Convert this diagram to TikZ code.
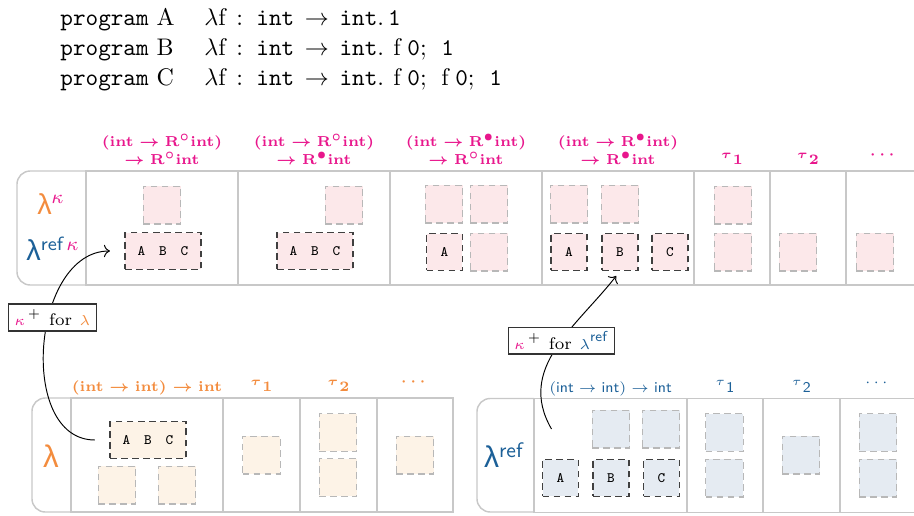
\documentclass[tikz,border=0pt]{standalone}
\usepackage{amsmath,amssymb}
\usepackage{fontspec}
\newfontfamily\lamfont{Liberation Sans}
\usetikzlibrary{arrows.meta,positioning,calc}
\definecolor{kpink}{RGB}{232,22,140}
\definecolor{lorange}{RGB}{243,140,62}
\definecolor{rblue}{RGB}{28,96,152}
\definecolor{kfill}{RGB}{252,232,234}
\definecolor{lfill}{RGB}{253,243,231}
\definecolor{rfill}{RGB}{229,235,242}
\definecolor{framegray}{RGB}{200,200,200}
\newcommand*{\pxu}{0.41667pt}
\newcommand*{\smallkappa}{\mbox{\fontsize{6}{6}\selectfont$\kappa$}}
\newcommand*{\smalllambda}{\mbox{\fontsize{6}{6}\selectfont$\lambda$}}
\newcommand*{\Rw}{\mathbf{R}^{\circ}}
\newcommand*{\Rb}{\mathbf{R}^{\bullet}}
\newcommand*{\bint}{\mathbf{int}}
\newcommand*{\sfint}{\textsf{int}}
\newcommand*{\ttint}{\mathtt{int}}
\newcommand*{\ABC}{A\hspace{5.8pt}B\hspace{5.8pt}C}
\newcommand*{\lamtype}{\lambda\mathrm{f}\mskip8mu{:}\mskip10mu\ttint\mskip8mu{\to}\mskip8mu\ttint.}
\newcommand*{\fzero}{\mathrm{f}\mskip5mu\mathtt{0};\mskip8mu}

\begin{document}
\begin{tikzpicture}[
    x=\pxu, y=-\pxu, >={To},
    cell/.style={draw=framegray, line width=0.6pt, minimum height=47.5pt,
      inner sep=0pt, outer sep=0pt, anchor=north west},
    frameline/.style={draw=framegray, line width=0.6pt, rounded corners=5.5pt},
    sqbox/.style={draw=black!28, line width=0.45pt, dash pattern=on 2.8pt off 1.8pt,
      minimum size=15.8pt, inner sep=0pt},
    tok/.style={draw=black!75, line width=0.55pt, dash pattern=on 2.8pt off 1.8pt,
      minimum width=15pt, minimum height=15.4pt, inner sep=0pt,
      font=\fontsize{6}{7}\selectfont\ttfamily},
    abc/.style={tok, minimum width=31.7pt},
    hdr/.style={inner sep=0pt, text depth=0pt, align=center},
    hk/.style={hdr, text=kpink, font=\fontsize{6.4}{7.6}\selectfont\boldmath},
    hl/.style={hdr, text=lorange, font=\fontsize{6.4}{7.6}\selectfont\boldmath},
    hr/.style={hdr, text=rblue, font=\fontsize{6.2}{7.4}\selectfont},
    lbl/.style={draw=black!80, fill=white, line width=0.5pt, font=\scriptsize,
      inner xsep=2.6pt, inner ysep=1.5pt, minimum height=11.2pt},
    prog/.style={inner sep=0pt, anchor=base west},
  ]
  \useasboundingbox (0,0) rectangle (914,516);
  \clip (0,0) rectangle (914,516);

  % programs
  \node[prog] (pA) at (60,25) {\texttt{program}\ A};
  \node[prog] (pB) at (60,55) {\texttt{program}\ B};
  \node[prog] (pC) at (60,85) {\texttt{program}\ C};
  \node[prog] (eA) at (204,25) {$\lamtype\,\mathtt{1}$};
  \node[prog] (eB) at (204,55) {$\lamtype\mskip7mu\fzero\mathtt{1}$};
  \node[prog] (eC) at (204,85) {$\lamtype\mskip7mu\fzero\fzero\mathtt{1}$};

  % lambda^kappa panel
  \draw[frameline] (86,171) -- (17,171) -- (17,285) -- (86,285);
  \foreach \a/\b [count=\i] in {86/238,238/390,390/542,542/694,694/770,770/846,846/922}
    \node[cell, minimum width={(\b-\a)*\pxu}] (t\i) at (\a,171) {};
  \node[text=lorange, font=\large] (lamK) at (51,204) {\lamfont λ$^{\textcolor{kpink}{\kappa}}$};
  \node[text=rblue, font=\large] (lamRK) at (53,249) {\lamfont λ$^{\textsf{ref}\,\textcolor{kpink}{\kappa}}$};

  \node[hk, above=2.5pt of t1] (hk1) {$(\bint\to\Rw\bint)$\\[0pt]$\to\Rw\bint$};
  \node[hk, above=2.5pt of t2] (hk2) {$(\bint\to\Rw\bint)$\\[0pt]$\to\Rb\bint$};
  \node[hk, above=2.5pt of t3] (hk3) {$(\bint\to\Rb\bint)$\\[0pt]$\to\Rw\bint$};
  \node[hk, above=2.5pt of t4] (hk4) {$(\bint\to\Rb\bint)$\\[0pt]$\to\Rb\bint$};
  \node[hk, above=2.5pt of t5] (hk5) {${}^{\tau}\mathbf{1}$};
  \node[hk, above=2.5pt of t6] (hk6) {${}^{\tau}\mathbf{2}$};
  \node[hk, above=5pt of t7] (hk7) {$\cdots$};

  \foreach \p [count=\i] in {(162,205),(344,205),(444,204),(489,204),(489,252),
      (569,204),(620,204),(733,205),(733,252),(798,252),(875,252)}
    \node[sqbox, fill=kfill] (ks\i) at \p {};
  \node[abc, fill=kfill] (kabc1) at (163,251) {\ABC};
  \node[abc, fill=kfill] (kabc2) at (315,251) {\ABC};
  \node[tok, fill=kfill] (kA3) at (444.5,252) {A};
  \node[tok, fill=kfill] (kA) at (569,252) {A};
  \node[tok, fill=kfill] (kB) at (620,252) {B};
  \node[tok, fill=kfill] (kC) at (670,252) {C};

  % lambda panel
  \draw[frameline] (71,398) -- (32,398) -- (32,512) -- (71,512);
  \foreach \a/\b [count=\i] in {71/223,223/300,300/377,377/453}
    \node[cell, minimum width={(\b-\a)*\pxu}] (l\i) at (\a,398) {};
  \node[text=lorange, font=\fontsize{13}{15}\selectfont] (lamL) at (51,456) {\lamfont λ};

  \node[hl, above=2.5pt of l1] (hl1) {$(\bint\to\bint)\to\bint$};
  \node[hl, above=2.5pt of l2] (hl2) {${}^{\tau}\mathbf{1}$};
  \node[hl, above=2.5pt of l3] (hl3) {${}^{\tau}\mathbf{2}$};
  \node[hl, above=5pt of l4] (hl4) {$\cdots$};

  \foreach \p [count=\i] in {(117,485),(177,485),(261.5,455),(338,432.5),(338,477.5),(415,455)}
    \node[sqbox, fill=lfill] (ls\i) at \p {};
  \node[abc, fill=lfill] (labc) at (148,440) {\ABC};

  % lambda^ref panel
  \draw[frameline] (534,398.5) -- (477,398.5) -- (477,512) -- (534,512);
  \foreach \a/\b [count=\i] in {534/687,687/763,763/840,840/916}
    \node[cell, minimum width={(\b-\a)*\pxu}] (r\i) at (\a,398.5) {};
  \node[text=rblue, font=\fontsize{12.5}{15}\selectfont] (lamR) at (504,455) {\lamfont λ$^{\textsf{ref}}$};

  \node[hr, above=2.5pt of r1] (hr1) {$(\sfint\to\sfint)\to\sfint$};
  \node[hr, above=2.5pt of r2] (hr2) {${}^{\tau}\textsf{1}$};
  \node[hr, above=2.5pt of r3] (hr3) {${}^{\tau}\textsf{2}$};
  \node[hr, above=5pt of r4] (hr4) {$\cdots$};

  \foreach \p [count=\i] in {(611,429),(661,429),(724.5,432.5),(724.5,478),(801,455),(878,432.5),(878,478)}
    \node[sqbox, fill=rfill] (rs\i) at \p {};
  \node[tok, fill=rfill] (rA) at (560.5,478) {A};
  \node[tok, fill=rfill] (rB) at (611,478) {B};
  \node[tok, fill=rfill] (rC) at (661.5,478) {C};

  % kappa+ connectors
  \coordinate (rstart) at ($(rs1.west)+(-40,0)$);
  \draw[->, shorten <=6pt, shorten >=6pt] (labc.west) to[out=180, in=180, looseness=1.25]
    node[lbl, pos=0.6] (kpl) {\textcolor{kpink}{\smallkappa}\kern1.2pt$^{+}$\hspace{3.2pt}for\hspace{3.2pt}\textcolor{lorange}{\smalllambda}}
    (kabc1.west);
  \draw[->, shorten >=2.5pt] (rstart) to[out=120, in=232, looseness=1.05]
    node[lbl, pos=0.55] (kpr) {\textcolor{kpink}{\smallkappa}\kern1.2pt$^{+}$\hspace{3.2pt}for\hspace{3.2pt}\textcolor{rblue}{\smalllambda$^{\mbox{\fontsize{6}{6}\selectfont\sffamily ref}}$}}
    (kB.south);
\end{tikzpicture}
\end{document}
